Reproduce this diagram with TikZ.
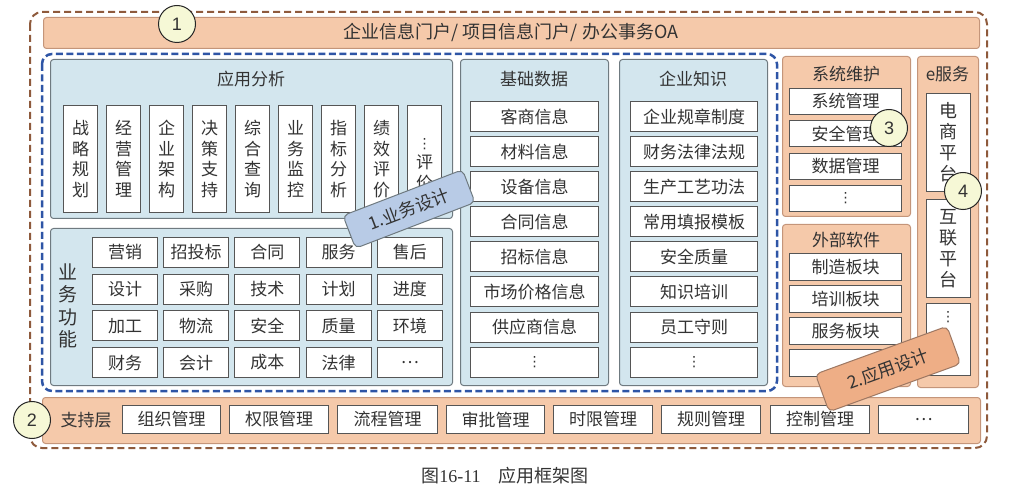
\documentclass[tikz,border=0pt]{standalone}
\usepackage{fontspec}
\setmainfont{Liberation Sans}
\newfontfamily\cjk{Noto Sans CJK SC}
\newfontfamily\symf{DejaVu Sans}
\newfontfamily\serf{Liberation Serif}
\usetikzlibrary{calc}
\definecolor{peachfill}{HTML}{F5C9AA}
\definecolor{peachline}{HTML}{C4957A}
\definecolor{bluefill}{HTML}{D3E6EE}
\definecolor{grayline}{HTML}{6F7A80}
\definecolor{itemline}{HTML}{555555}
\definecolor{textc}{HTML}{333333}
\definecolor{circfill}{HTML}{F6F8D6}
\definecolor{bluedash}{HTML}{2E55A6}
\definecolor{browndash}{HTML}{8E5A3C}
\definecolor{lab1}{HTML}{B8CBE6}
\definecolor{lab2}{HTML}{EEAE86}
\newcommand\vd{{\symf\fontsize{14}{14}\selectfont ⋮}}
\tikzset{
  every node/.style={inner sep=0pt, text=textc},
  peachbox/.style={draw=peachline, fill=peachfill, rounded corners=3pt, line width=1pt, anchor=north west},
  bluebox/.style={draw=grayline, fill=bluefill, rounded corners=3pt, line width=1pt, anchor=north west},
  item/.style={draw=itemline, fill=white, line width=1pt, anchor=north west, font=\cjk\fontsize{17}{17}\selectfont},
  vitem/.style={item, align=center, font=\cjk\fontsize{17}{20.5}\selectfont},
  title/.style={font=\cjk\fontsize{17}{17}\selectfont},
  num/.style={circle, draw=black!85, fill=circfill, line width=1pt, minimum size=37pt, font=\fontsize{18}{18}\selectfont},
  tag/.style={rounded corners=5pt, line width=1pt, font=\cjk\fontsize{17.5}{17.5}\selectfont}
}
\begin{document}
\begin{tikzpicture}[x=1pt,y=-1pt]
\useasboundingbox (0,0) rectangle (1021,497);
% outer dashed frame
\draw[browndash, line width=2pt, dash pattern=on 7pt off 4pt, rounded corners=12pt] (30,12) rectangle (987,448);
% top bar
\node[peachbox, minimum width=936pt, minimum height=31pt] (portal) at (43,17) {};
\node[font=\cjk\fontsize{18}{18}\selectfont] (portaltxt) at (511,32.5) {企业信息门户/ 项目信息门户/ 办公事务OA};
% blue dashed frame
\draw[bluedash, line width=2.5pt, dash pattern=on 7pt off 3.5pt, rounded corners=10pt] (42,54) rectangle (777,391);
% application analysis
\node[bluebox, minimum width=402pt, minimum height=159pt] (ana) at (50,59) {};
\node[title] (anat) at (251,79) {应用分析};
\foreach \t [count=\i from 0] in {战\\略\\规\\划,经\\营\\管\\理,企\\业\\架\\构,决\\策\\支\\持,综\\合\\查\\询,业\\务\\监\\控,指\\标\\分\\析,绩\\效\\评\\价,{}\\\vd\\评\\价}
  \node[vitem, minimum width=34pt, minimum height=107pt] (an\i) at ({63+43*\i},105) {\t};
% business function
\node[bluebox, minimum width=402pt, minimum height=157pt] (biz) at (50,228) {};
\node[align=center, font=\cjk\fontsize{19}{22.5}\selectfont] (bizt) at (68,306) {业\\务\\功\\能};
\foreach \t [count=\i from 0] in {营销,招投标,合同,服务,售后,设计,采购,技术,计划,进度,加工,物流,安全,质量,环境,财务,会计,成本,法律,…}{
  \pgfmathtruncatemacro{\r}{int(\i/5)}
  \pgfmathtruncatemacro{\c}{mod(\i,5)}
  \node[item, minimum width=65pt, minimum height=30pt] (bf\i) at ({92+71.2*\c},{237+36.7*\r}) {\t};
}
% basic data
\node[bluebox, minimum width=148pt, minimum height=326pt] (bd) at (460,59) {};
\node[title] (bdt) at (534,79) {基础数据};
\foreach \t [count=\i from 0] in {客商信息,材料信息,设备信息,合同信息,招标信息,市场价格信息,供应商信息,\vd}
  \node[item, minimum width=128pt, minimum height=30pt] (bd\i) at (470,{101+35.1*\i}) {\t};
% enterprise knowledge
\node[bluebox, minimum width=148pt, minimum height=326pt] (ek) at (619,59) {};
\node[title] (ekt) at (693,79) {企业知识};
\foreach \t [count=\i from 0] in {企业规章制度,财务法律法规,生产工艺功法,常用填报模板,安全质量,知识培训,员工守则,\vd}
  \node[item, minimum width=127pt, minimum height=30pt] (ek\i) at (630,{101+35.1*\i}) {\t};
% system maintenance
\node[peachbox, minimum width=128pt, minimum height=160pt] (sm) at (782,56) {};
\node[title] (smt) at (846,74) {系统维护};
\foreach \t [count=\i from 0] in {系统管理,安全管理,数据管理,\vd}
  \node[item, minimum width=112pt, minimum height=26pt] (sm\i) at (789,{88+32.3*\i}) {\t};
% external software
\node[peachbox, minimum width=128pt, minimum height=162pt] (ex) at (782,224) {};
\node[title] (ext) at (846,240) {外部软件};
\foreach \t [count=\i from 0] in {制造板块,培训板块,服务板块,{}}
  \node[item, minimum width=112pt, minimum height=27pt] (ex\i) at (789,{253+32*\i}) {\t};
% e-service
\node[peachbox, minimum width=61pt, minimum height=331pt] (es) at (917,56) {};
\node[title] (est) at (947.5,74) {e服务};
\node[vitem, minimum width=44pt, minimum height=98pt, font=\cjk\fontsize{18}{21}\selectfont] (es0) at (926,93) {电\\商\\平\\台};
\node[vitem, minimum width=44pt, minimum height=98pt, font=\cjk\fontsize{18}{21}\selectfont] (es1) at (926,199) {互\\联\\平\\台};
\node[item, minimum width=44pt, minimum height=72pt] (es2) at (926,303) {};
\node (es2t) at (948,317) {\vd};
% support layer
\node[peachbox, minimum width=938pt, minimum height=46pt] (sup) at (42,397) {};
\node[title] (supt) at (86,420) {支持层};
\foreach \t/\x/\w [count=\i from 0] in {组织管理/122/98,权限管理/229/99,流程管理/337/100,审批管理/446/98,时限管理/553/99,规则管理/661/99,控制管理/770/99,…/878/90}
  \node[item, minimum width=\w pt, minimum height=28pt] (sp\i) at (\x,405) {\t};
% numbered circles
\node[num] (n1) at (177,24) {1};
\node[num] (n2) at (32,420) {2};
\node[num] (n3) at (889,128) {3};
\node[num] (n4) at (963,191) {4};
% tags
\node[tag, draw=grayline, fill=lab1, rotate=21, minimum width=128pt, minimum height=35pt] (tag1) at (409,209) {1.业务设计};
\node[tag, draw=peachline!80!black, fill=lab2, rotate=20, minimum width=140pt, minimum height=40pt] (tag2) at (888,369) {2.应用设计};
% caption
\node[font=\fontsize{18}{18}\selectfont] (cap) at (505,476) {{\cjk 图}{\serf 16-11}\hspace{18pt}{\cjk 应用框架图}};
\end{tikzpicture}
\end{document}
